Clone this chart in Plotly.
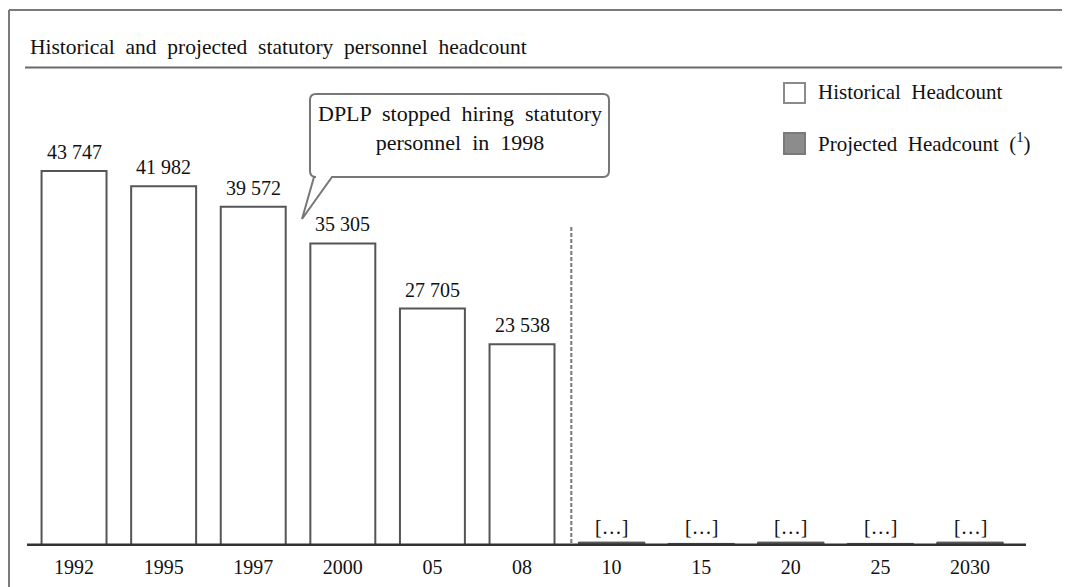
import plotly.graph_objects as go

# ---- data ----
hist_years = ["1992", "1995", "1997", "2000", "05", "08"]
hist_values = [43747, 41982, 39572, 35305, 27705, 23538]
proj_years = ["10", "15", "20", "25", "2030"]
proj_values = [450, 300, 450, 300, 450]          # not disclosed in source, shown as [...]
proj_labels = ["[…]", "[…]", "[…]", "[…]", "[…]"]
all_years = hist_years + proj_years

title_text = "Historical and projected statutory personnel headcount"
callout_lines = ["DPLP stopped hiring statutory", "personnel in 1998"]
legend_names = ["Historical Headcount", "Projected Headcount (<sup>1</sup>)"]

FONT = "Liberation Serif, Times New Roman, serif"
TXT = "#111111"

# ---- layout geometry (reference-image pixels; page body has an 8px margin) ----
OFF = 8
W, H = 1070 - OFF, 587 - OFF
L, R, T, B = 27, 1026, 100, 546
def px(x):
    return (x - L) / (R - L)
def py(y):
    return (B - y) / (B - T)

def wide(s, n=2):
    return s.replace(" ", " " + "\u00a0" * (n - 1))

fig = go.Figure()
fig.add_trace(go.Bar(
    x=hist_years, y=hist_values, name=legend_names[0], width=0.725,
    marker=dict(color="white", line=dict(color="#555555", width=2)),
    showlegend=False, hoverinfo="x+y"))
fig.add_trace(go.Bar(
    x=proj_years, y=proj_values, name=legend_names[1], width=0.74,
    marker=dict(color="#555555", line=dict(color="#444444", width=1)),
    showlegend=False, hoverinfo="x"))

ann = []
for xv, v in zip(hist_years, hist_values):
    ann.append(dict(x=all_years.index(xv), y=v, xref="x", yref="y", text=f"{v:,}".replace(",", " "),
                    showarrow=False, yanchor="middle", yshift=19,
                    font=dict(family=FONT, size=20, color=TXT)))
for xv, v, t in zip(proj_years, proj_values, proj_labels):
    ann.append(dict(x=all_years.index(xv), y=0, xref="x", yref="y", text=t,
                    showarrow=False, yanchor="middle", yshift=19,
                    font=dict(family=FONT, size=20, color=TXT)))
# title
ann.append(dict(x=px(28), y=py(47), xref="paper", yref="paper", text=wide(title_text, 2),
                showarrow=False, xanchor="left", yanchor="middle",
                font=dict(family=FONT, size=21.5, color=TXT)))
# callout text
ann.append(dict(x=px(460), y=py(127.5), xref="paper", yref="paper",
                text=wide(callout_lines[0], 2) + "<br>" + wide(callout_lines[1], 2),
                showarrow=False, xanchor="center", yanchor="middle", align="center",
                font=dict(family=FONT, size=22, color=TXT)))
# legend text
for name, yc in zip(legend_names, [92, 142]):
    ann.append(dict(x=px(816), y=py(yc), xref="paper", yref="paper", text=wide(name, 2),
                    showarrow=False, xanchor="left", yanchor="middle",
                    font=dict(family=FONT, size=21, color=TXT)))

shapes = []
# outer frame (left and top)
shapes.append(dict(type="line", xref="paper", yref="paper", x0=px(9), x1=px(9), y0=py(10), y1=py(600),
                   line=dict(color="#7a7a7a", width=2)))
shapes.append(dict(type="line", xref="paper", yref="paper", x0=px(9), x1=px(1080), y0=py(10), y1=py(10),
                   line=dict(color="#7a7a7a", width=2)))
# rule under title
shapes.append(dict(type="line", xref="paper", yref="paper", x0=px(25), x1=px(1080), y0=py(67.5), y1=py(67.5),
                   line=dict(color="#6a6a6a", width=2)))
# dashed separator
shapes.append(dict(type="line", xref="x", yref="paper", x0=5.55, x1=5.55, y0=py(227), y1=0,
                   line=dict(color="#777777", width=2, dash="4px,2px")))
# baseline
shapes.append(dict(type="line", xref="paper", yref="y", x0=0, x1=1, y0=0, y1=0, layer="above",
                   line=dict(color="#333333", width=5)))
# callout bubble
x0, x1, y0, y1, r = 310, 609, 94, 177, 6
pts = [
    ("M", (x0 + r, y0)), ("L", (x1 - r, y0)), ("Q", (x1, y0), (x1, y0 + r)),
    ("L", (x1, y1 - r)), ("Q", (x1, y1), (x1 - r, y1)), ("L", (332, y1)),
    ("L", (302, 219)), ("L", (314, y1)), ("L", (x0 + r, y1)),
    ("Q", (x0, y1), (x0, y1 - r)), ("L", (x0, y0 + r)), ("Q", (x0, y0), (x0 + r, y0)),
]
path = ""
for seg in pts:
    cmd = seg[0]
    coords = " ".join(f"{px(a):.5f},{py(b):.5f}" for a, b in seg[1:])
    path += f"{cmd}{coords} "
path += "Z"
shapes.append(dict(type="path", xref="paper", yref="paper", path=path,
                   fillcolor="white", line=dict(color="#777777", width=2), layer="above"))
# legend swatches
shapes.append(dict(type="rect", xref="paper", yref="paper", x0=px(784), x1=px(805), y0=py(83), y1=py(103),
                   fillcolor="white", line=dict(color="#8a8a8a", width=2)))
shapes.append(dict(type="rect", xref="paper", yref="paper", x0=px(784), x1=px(805), y0=py(133), y1=py(154),
                   fillcolor="#8c8c8c", line=dict(color="#7a7a7a", width=2)))

ymax = (B - T) / 0.00857
fig.update_layout(
    width=W, height=H, margin=dict(l=L - OFF, r=W - (R - OFF), t=T - OFF, b=H - (B - OFF), pad=0,
                                   autoexpand=False),
    paper_bgcolor="white", plot_bgcolor="white", barmode="overlay",
    showlegend=False, annotations=ann, shapes=shapes,
    font=dict(family=FONT, size=20, color=TXT),
    xaxis=dict(type="category", categoryorder="array", categoryarray=all_years,
               range=[-0.525, 10.625], showgrid=False, zeroline=False, showline=False,
               ticks="", ticklabelstandoff=7, automargin=False,
               tickfont=dict(family=FONT, size=20, color=TXT), fixedrange=True),
    yaxis=dict(range=[0, ymax], visible=False, fixedrange=True, automargin=False),
)
fig.write_html("out.html")
